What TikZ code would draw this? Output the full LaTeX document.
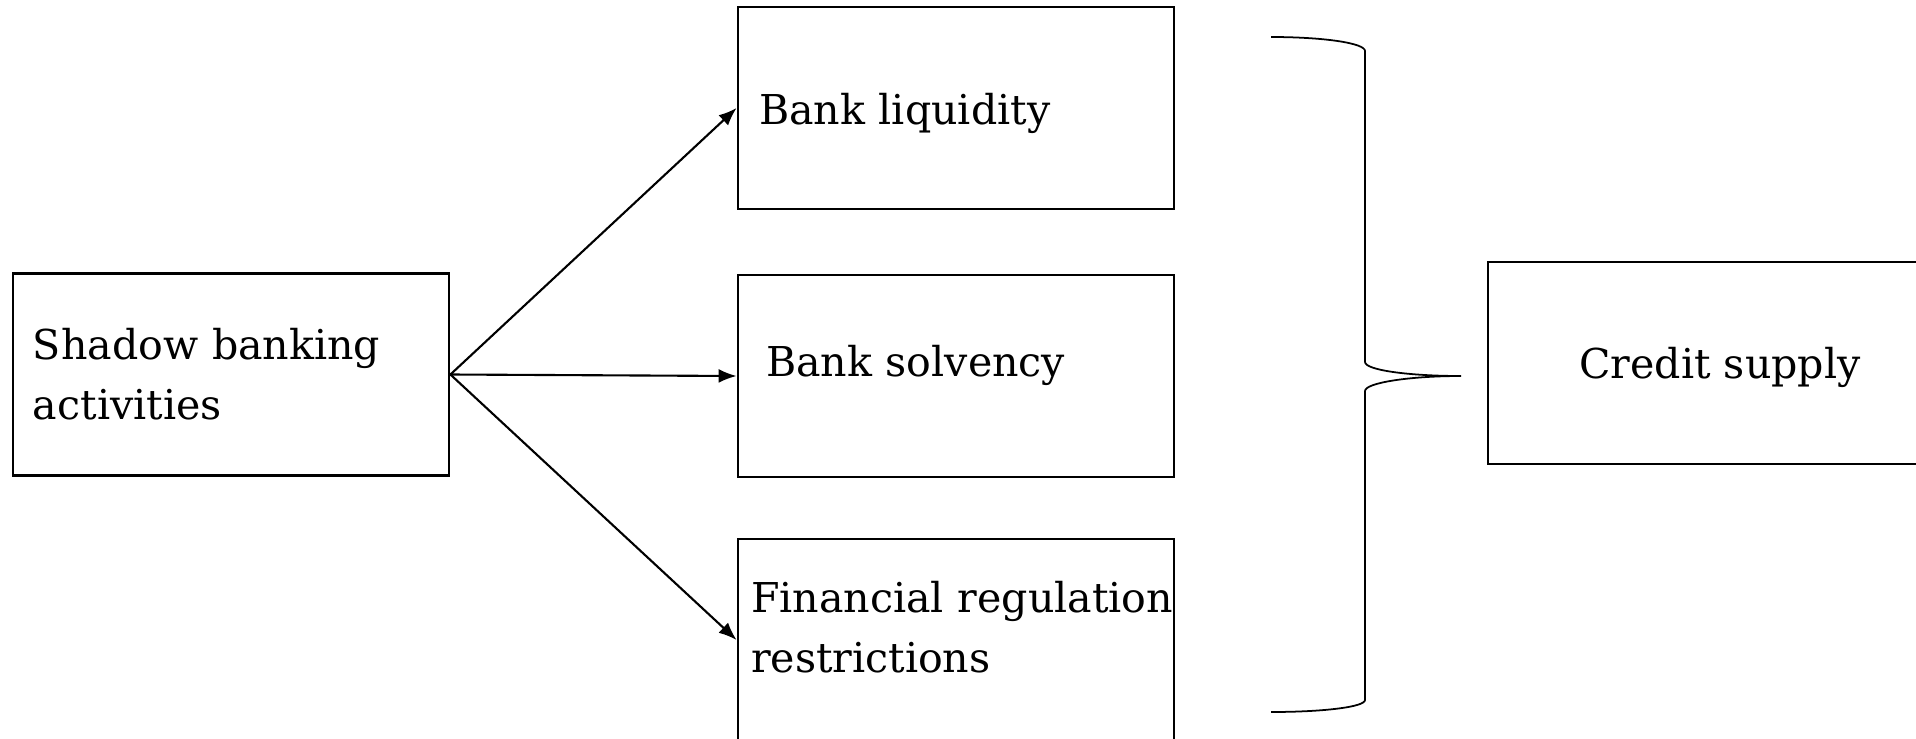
\documentclass[tikz,border=0pt]{standalone}
\usepackage{fontspec}
\setmainfont{DejaVu Serif}
\usetikzlibrary{arrows.meta}

\tikzset{
  box/.style={draw, rectangle, line width=0.8pt, minimum width=4.36cm,
    minimum height=2.02cm, font=\fontsize{11.7}{17}\selectfont},
  lbox/.style={box, align=left, inner xsep=#1, text width=4.36cm-2*#1},
  link/.style={-{Latex[length=1.8mm,width=1.4mm]}, line width=0.6pt}
}

\begin{document}
\begin{tikzpicture}
  \clip (0,0) rectangle (19.16,7.38);

  \node (Shadow) at (2.31,3.635) [lbox=0.2cm] {Shadow banking\\activities};

  \node (Liquidity) at (9.56,6.30) [lbox=0.21cm, text height=0.43cm] {Bank liquidity};
  \node (Solvency) at (9.56,3.62) [lbox=0.28cm, text depth=0.3cm] {Bank solvency};
  \node (Regulation) at (9.56,0.98) [lbox=0.13cm, text depth=0.86cm] {\mbox{Financial regulation}\\restrictions};

  \node (Credit) at (17.20,3.75) [box, minimum width=4.64cm, text height=0.4cm] {Credit supply};

  \draw[link] (Shadow.east) -- (Liquidity.west);
  \draw[link] (Shadow.east) -- (Solvency.west);
  \draw[link] (Shadow.east) -- (Regulation.west);

  % brace
  \draw[line width=0.5pt] (12.71,7.01) .. controls (13.23,7.01) and (13.65,6.95) .. (13.65,6.87)
    -- (13.65,3.76) .. controls (13.65,3.68) and (14.08,3.62) .. (14.61,3.62)
    .. controls (14.08,3.62) and (13.65,3.55) .. (13.65,3.47)
    -- (13.65,0.38) .. controls (13.65,0.31) and (13.23,0.26) .. (12.71,0.26);
\end{tikzpicture}
\end{document}
